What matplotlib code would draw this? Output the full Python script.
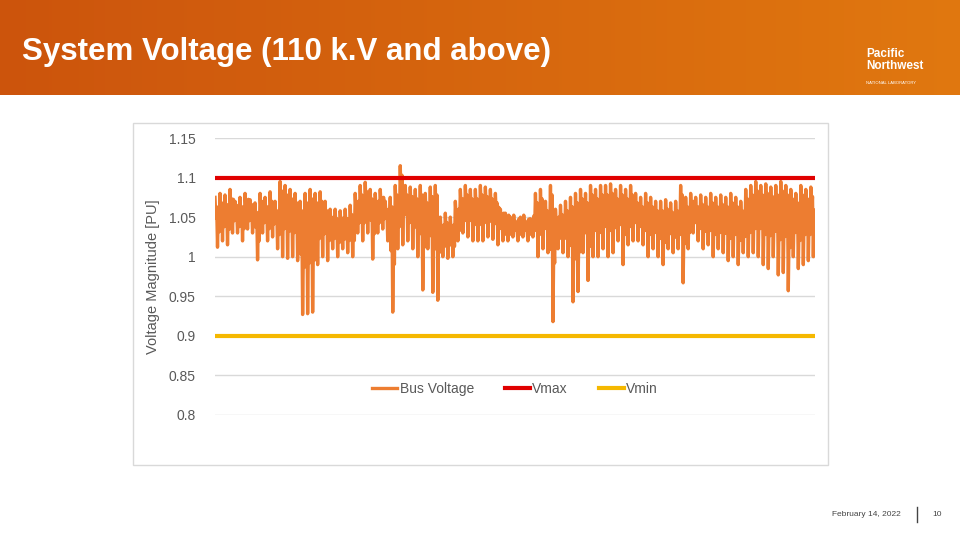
import numpy as np
import matplotlib
matplotlib.use("Agg")
import matplotlib.pyplot as plt
from matplotlib.patches import Rectangle

plt.rcParams['font.family'] = ['Liberation Sans', 'DejaVu Sans']

seg_hi = [1.075,1.08,1.078,1.085,1.07,1.075,1.08,1.072,1.068,1.08,1.075,1.082,1.07,1.095,1.09,1.085,1.08,1.07,1.08,1.085,
          1.08,1.082,1.07,1.06,1.06,1.058,1.06,1.065,1.08,1.09,1.094,1.085,1.08,1.085,1.07,1.075,1.09,1.115,1.09,1.088,
          1.085,1.09,1.08,1.088,1.09,1.05,1.055,1.05,1.07,1.085,1.09,1.085,1.085,1.09,1.088,1.085,1.08,1.06,1.055,1.05,
          1.045,1.05,1.045,1.048,1.08,1.085,1.07,1.09,1.06,1.065,1.07,1.075,1.08,1.085,1.08,1.09,1.085,1.09,1.09,1.092,
          1.085,1.09,1.085,1.09,1.08,1.075,1.08,1.075,1.07,1.07,1.072,1.068,1.07,1.09,1.075,1.08,1.075,1.078,1.075,1.08,
          1.075,1.078,1.075,1.08,1.075,1.07,1.085,1.09,1.095,1.09,1.092,1.088,1.09,1.095,1.09,1.085,1.08,1.09,1.085,1.088]
seg_lo = [1.012,1.02,1.015,1.03,1.03,1.02,1.035,1.03,0.996,1.03,1.02,1.025,1.01,1.0,0.998,1.0,0.995,0.927,0.928,0.93,
          0.99,1.0,0.995,1.01,1.0,1.01,1.005,1.0,1.03,1.02,1.03,0.997,1.03,1.035,1.02,0.93,1.01,1.015,1.02,1.01,
          1.0,0.958,1.01,0.955,0.945,1.0,0.998,1.0,1.02,1.03,1.025,1.02,1.02,1.02,1.025,1.022,1.015,1.02,1.02,1.025,
          1.02,1.025,1.02,1.025,1.0,1.01,1.005,0.918,1.01,1.005,1.0,0.943,0.956,1.005,0.97,1.0,1.0,1.01,1.0,1.005,
          1.02,0.99,1.015,1.02,1.02,1.015,1.0,1.01,1.0,0.99,1.01,1.005,1.01,0.967,1.01,1.03,1.02,1.01,1.015,1.0,
          1.01,1.005,0.995,1.0,0.99,1.005,1.0,1.005,1.0,0.99,0.985,1.0,0.977,0.98,0.957,1.0,0.985,0.99,0.995,1.0]
vmax = 1.1
vmin = 0.9
yticks = [0.8, 0.85, 0.9, 0.95, 1.0, 1.05, 1.1, 1.15]
ytick_labels = ['0.8', '0.85', '0.9', '0.95', '1', '1.05', '1.1', '1.15']

# zigzag series between each segment's high and low
bus = []
for h, l in zip(seg_hi, seg_lo):
    m = (h + l) / 2
    bus += [h, m + 0.005, h - 0.012, l, m + 0.015, max(l, m - 0.02) + 0.008]
x = np.arange(len(bus))

fig = plt.figure(figsize=(9.6, 5.4), dpi=100)
fig.patch.set_facecolor('white')

hax = fig.add_axes([0, 1 - 95/540, 1, 95/540])
grad = np.linspace(0, 1, 256)
c1 = np.array([0.80, 0.33, 0.05]); c2 = np.array([0.88, 0.47, 0.06])
img = (c1[None, :] * (1 - grad[:, None]) + c2[None, :] * grad[:, None])[None, :, :]
hax.imshow(img, aspect='auto', extent=[0, 1, 0, 1])
hax.set_axis_off()
fig.text(22/960, 1 - 52/540, 'System Voltage (110 k.V and above)', color='white',
         fontsize=22.5, fontweight='bold', va='center', ha='left')
fig.text(866/960, 1 - 60/540, 'Pacific\nNorthwest', color='white', fontsize=8.5,
         fontweight='bold', va='center', ha='left', linespacing=1.0)
fig.text(866/960, 1 - 83/540, 'NATIONAL LABORATORY', color='white', fontsize=3,
         va='center', ha='left')

fig.patches.append(Rectangle((133/960, 1 - 465/540), 695/960, 342/540,
                             transform=fig.transFigure, fill=False,
                             edgecolor='#d9d9d9', linewidth=1))

ax = fig.add_axes([215/960, 1 - 415/540, 600/960, 277/540])
ax.plot(x, bus, color='#ed7d31', linewidth=2.4, label='Bus Voltage')
ax.plot([x[0], x[-1]], [vmax, vmax], color='#e00000', linewidth=3, label='Vmax')
ax.plot([x[0], x[-1]], [vmin, vmin], color='#f5b800', linewidth=3, label='Vmin')
ax.set_xlim(x[0], x[-1])
ax.set_ylim(0.8, 1.15)
ax.set_yticks(yticks)
ax.set_yticklabels(ytick_labels, color='#595959', fontsize=10)
ax.set_xticks([])
ax.grid(axis='y', color='#d9d9d9', linewidth=1)
ax.set_axisbelow(True)
for s in ax.spines.values():
    s.set_visible(False)
ax.tick_params(axis='y', length=0, pad=14)
ax.set_ylabel('Voltage Magnitude [PU]', color='#595959', fontsize=10.5, labelpad=6)
leg = ax.legend(loc='center', bbox_to_anchor=(0.5, 0.095), ncol=3, frameon=False,
                fontsize=10, handlelength=1.8, columnspacing=2.2, handletextpad=0.2)
for t in leg.get_texts():
    t.set_color('#595959')

fig.text(832/960, 1 - 515/540, 'February 14, 2022', fontsize=6, color='#444444', va='center')
fig.text(932/960, 1 - 515/540, '10', fontsize=6, color='#444444', va='center')
fig.add_artist(plt.Line2D([917/960, 917/960], [1 - 522/540, 1 - 507/540],
                          transform=fig.transFigure, color='#444444', linewidth=1))

fig.savefig('out.png', dpi=100)
